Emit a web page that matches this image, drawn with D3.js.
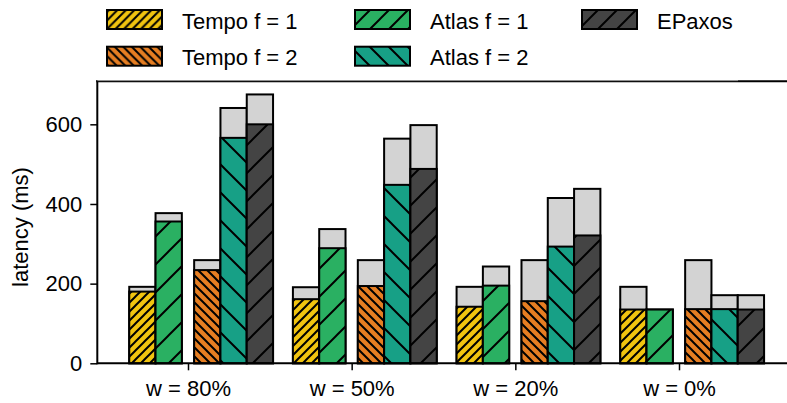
<!DOCTYPE html>
<html>
<head>
	<meta charset="utf-8">
	<title></title>
	<script src="https://cdn.jsdelivr.net/npm/d3@7"></script>
	<style>
		body { margin: 0; background: #fff; }
		text { font-family: "Liberation Sans", Arial, sans-serif; font-size: 22px; fill: #000; }
	</style>
</head>
<body>
	<svg id="chart" width="787" height="403"></svg>

	<script type="text/javascript">
		// data (ms); "tail" is the grey top part
		var groups = ["w = 80%", "w = 50%", "w = 20%", "w = 0%"];
		var seriesNames = ["Tempo f = 1", "Atlas f = 1", "Tempo f = 2", "Atlas f = 2", "EPaxos"];
		var tempo1 = [180, 161, 142, 135];
		var tempo1Tail = [192, 191, 192, 192];
		var atlas1 = [356, 289, 195, 135];
		var atlas1Tail = [377, 337, 243, 135];
		var tempo2 = [234, 194, 156, 136];
		var tempo2Tail = [259, 259, 259, 259];
		var atlas2 = [566, 448, 293, 136];
		var atlas2Tail = [641, 564, 415, 171];
		var epaxos = [600, 488, 321, 135];
		var epaxosTail = [675, 598, 438, 171];
		var yTicks = [0, 200, 400, 600];

		var values = [tempo1, atlas1, tempo2, atlas2, epaxos];
		var tails = [tempo1Tail, atlas1Tail, tempo2Tail, atlas2Tail, epaxosTail];
		var colors = ["#f1c40f", "#2ab062", "#e67e22", "#17a086", "#444444"];
		var hatchDir = ["/", "/", "\\", "\\", "/"];
		var hatchDense = [true, false, true, false, false];
		// slot of each series inside a group, in bar widths (two clusters)
		var slots = [-2.234, -1.234, 0.234, 1.234, 2.234];
		// legend order (column major)
		var legendOrder = [0, 2, 1, 3, 4];

		var svg = d3.select("#chart");
		var plotLeft = 97.3, plotBottom = 363.3, plotTop = 81.3;

		var x = d3.scaleLinear().domain([0, 3]).range([188, 679]);
		var y = d3.scaleLinear().domain([0, 708]).range([plotBottom, plotTop]);
		var barW = 26.3 / (x(1) - x(0));

		var defs = svg.append("defs");
		function makeHatch(id, color, dir, p, sw) {
			var pat = defs.append("pattern")
				.attr("id", id)
				.attr("patternUnits", "userSpaceOnUse")
				.attr("width", p)
				.attr("height", p);
			pat.append("rect").attr("width", p).attr("height", p).attr("fill", color);
			var d;
			if (dir == "/") {
				d = "M0," + p + "L" + p + ",0M" + (-p / 4) + "," + (p / 4) + "L" + (p / 4) + "," + (-p / 4) +
					"M" + (3 * p / 4) + "," + (5 * p / 4) + "L" + (5 * p / 4) + "," + (3 * p / 4);
			} else {
				d = "M0,0L" + p + "," + p + "M" + (-p / 4) + "," + (3 * p / 4) + "L" + (p / 4) + "," + (5 * p / 4) +
					"M" + (3 * p / 4) + "," + (-p / 4) + "L" + (5 * p / 4) + "," + (p / 4);
			}
			pat.append("path").attr("d", d).attr("stroke", "#000").attr("stroke-width", sw)
				.attr("stroke-linecap", "square");
		}
		values.forEach(function(v, i) {
			makeHatch("bar" + i, colors[i], hatchDir[i], hatchDense[i] ? 9 : 28, 2);
			makeHatch("leg" + i, colors[i], hatchDir[i], hatchDense[i] ? 8.5 : 19, 2);
		});

		// bars: grey tail behind, hatched value in front
		var bars = svg.append("g");
		values.forEach(function(v, s) {
			var g = bars.append("g");
			g.selectAll("rect.tail")
				.data(tails[s])
				.enter()
				.append("rect")
				.attr("class", "tail")
				.attr("x", function(d, i) { return x(i + slots[s] * barW); })
				.attr("width", x(barW) - x(0))
				.attr("y", function(d) { return y(d); })
				.attr("height", function(d) { return y(0) - y(d); })
				.attr("fill", "#d3d3d3")
				.attr("stroke", "#000")
				.attr("stroke-width", 2);
			g.selectAll("rect.val")
				.data(v)
				.enter()
				.append("rect")
				.attr("class", "val")
				.attr("x", function(d, i) { return x(i + slots[s] * barW); })
				.attr("width", x(barW) - x(0))
				.attr("y", function(d) { return y(d); })
				.attr("height", function(d) { return y(0) - y(d); })
				.attr("fill", "url(#bar" + s + ")")
				.attr("stroke", "#000")
				.attr("stroke-width", 2);
		});

		// axes
		var yAxis = svg.append("g")
			.attr("transform", "translate(" + plotLeft + ",0)")
			.call(d3.axisLeft(y).tickValues(yTicks).tickSize(7).tickPadding(8));
		yAxis.select(".domain").remove();
		yAxis.selectAll(".tick line").attr("stroke-width", 1.5);
		yAxis.selectAll(".tick text").attr("font-size", null).attr("font-family", null);
		yAxis.attr("font-size", null).attr("font-family", null);

		var xAxis = svg.append("g")
			.attr("transform", "translate(0," + plotBottom + ")")
			.call(d3.axisBottom(x).tickValues([0, 1, 2, 3])
				.tickFormat(function(d) { return groups[d]; }).tickSize(7).tickPadding(10));
		xAxis.select(".domain").remove();
		xAxis.selectAll(".tick line").attr("stroke-width", 1.5);
		xAxis.attr("font-size", null).attr("font-family", null);

		svg.append("line").attr("x1", plotLeft).attr("x2", 790).attr("y1", plotBottom).attr("y2", plotBottom)
			.attr("stroke", "#000").attr("stroke-width", 2);
		svg.append("line").attr("x1", plotLeft).attr("x2", plotLeft).attr("y1", plotTop - 1).attr("y2", plotBottom + 1)
			.attr("stroke", "#000").attr("stroke-width", 2);
		svg.append("line").attr("x1", plotLeft - 1).attr("x2", 790).attr("y1", plotTop).attr("y2", plotTop)
			.attr("stroke", "#000").attr("stroke-width", 2);
		svg.append("line").attr("x1", plotLeft).attr("x2", 738).attr("y1", plotTop - 0.7).attr("y2", plotTop - 0.7)
			.attr("stroke", "#999").attr("stroke-width", 1);

		svg.append("text")
			.attr("transform", "translate(28,227) rotate(-90)")
			.attr("text-anchor", "middle")
			.text("latency (ms)");

		// legend
		var legX = [107, 355, 582];
		var legY = [10, 46.7];
		var leg = svg.append("g");
		legendOrder.forEach(function(s, k) {
			var cx = legX[Math.floor(k / 2)], cy = legY[k % 2];
			leg.append("rect")
				.attr("x", cx).attr("y", cy).attr("width", 55).attr("height", 19)
				.attr("fill", "url(#leg" + s + ")")
				.attr("stroke", "#000").attr("stroke-width", 2);
			leg.append("text")
				.attr("x", cx + 75).attr("y", cy + 18.5)
				.text(seriesNames[s]);
		});
	</script>
</body>
</html>
